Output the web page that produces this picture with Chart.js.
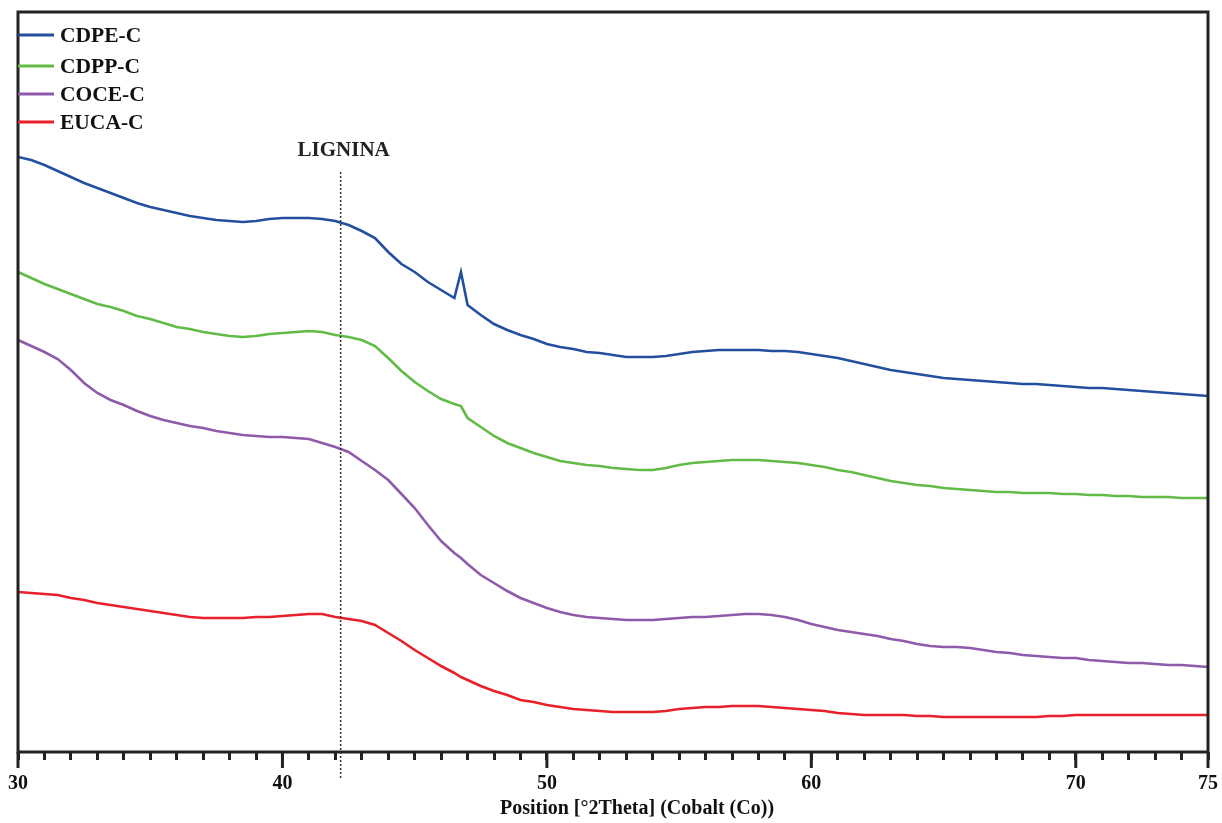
<!DOCTYPE html>
<html>
<head>
<meta charset="utf-8">
<script src="https://cdn.jsdelivr.net/npm/chart.js@4.4.0/dist/chart.umd.min.js"></script>
<style>
  body { margin: 0; background: #fff; }
  #wrap { width: 1222px; height: 823px; }
</style>
</head>
<body>
<div id="wrap"><canvas id="myChart"></canvas></div>
<script>
// Position [°2Theta], shared by the four patterns
var positions = [30, 30.5, 31, 31.5, 32, 32.5, 33, 33.5, 34, 34.5, 35, 35.5, 36, 36.5, 37, 37.5, 38, 38.5, 39, 39.5,
  40, 40.5, 41, 41.5, 42, 42.5, 43, 43.5, 44, 44.5, 45, 45.5, 46, 46.5, 46.75, 47, 47.5, 48, 48.5, 49, 49.5,
  50, 50.5, 51, 51.5, 52, 52.5, 53, 53.5, 54, 54.5, 55, 55.5, 56, 56.5, 57, 57.5, 58, 58.5, 59, 59.5,
  60, 60.5, 61, 61.5, 62, 62.5, 63, 63.5, 64, 64.5, 65, 65.5, 66, 66.5, 67, 67.5, 68, 68.5, 69, 69.5,
  70, 70.5, 71, 71.5, 72, 72.5, 73, 73.5, 74, 74.5, 75];

// intensities (arbitrary units, stacked patterns)
var cdpe = [593, 590, 585, 579, 573, 567, 562, 557, 552, 547, 543, 540, 537, 534, 532, 530, 529, 528, 529, 531,
  532, 532, 532, 531, 529, 525, 519, 512, 498, 486, 478, 468, 460, 452, 478, 445, 435, 426, 420, 415, 411,
  406, 403, 401, 398, 397, 395, 393, 393, 393, 394, 396, 398, 399, 400, 400, 400, 400, 399, 399, 398,
  396, 394, 392, 389, 386, 383, 380, 378, 376, 374, 372, 371, 370, 369, 368, 367, 366, 366, 365, 364,
  363, 362, 362, 361, 360, 359, 358, 357, 356, 355, 354];
var cdpp = [478, 472, 466, 461, 456, 451, 446, 443, 439, 434, 431, 427, 423, 421, 418, 416, 414, 413, 414, 416,
  417, 418, 419, 418, 415, 413, 410, 404, 392, 379, 368, 359, 351, 346, 344, 332, 323, 314, 307, 302, 297,
  293, 289, 287, 285, 284, 282, 281, 280, 280, 282, 285, 287, 288, 289, 290, 290, 290, 289, 288, 287,
  285, 283, 280, 278, 275, 272, 269, 267, 265, 264, 262, 261, 260, 259, 258, 258, 257, 257, 257, 256,
  256, 255, 255, 254, 254, 253, 253, 253, 252, 252, 252];
var coce = [410, 404, 398, 391, 380, 367, 357, 350, 345, 339, 334, 330, 327, 324, 322, 319, 317, 315, 314, 313,
  313, 312, 311, 307, 303, 298, 289, 280, 270, 256, 242, 225, 209, 197, 192, 186, 175, 167, 159, 152, 147,
  142, 138, 135, 133, 132, 131, 130, 130, 130, 131, 132, 133, 133, 134, 135, 136, 136, 135, 133, 130,
  126, 123, 120, 118, 116, 114, 111, 109, 106, 104, 103, 103, 102, 100, 98, 97, 95, 94, 93, 92,
  92, 90, 89, 88, 87, 87, 86, 85, 85, 84, 83];
var euca = [158, 157, 156, 155, 152, 150, 147, 145, 143, 141, 139, 137, 135, 133, 132, 132, 132, 132, 133, 133,
  134, 135, 136, 136, 133, 131, 129, 125, 117, 109, 100, 92, 84, 77, 73, 70, 64, 59, 55, 50, 48,
  45, 43, 41, 40, 39, 38, 38, 38, 38, 39, 41, 42, 43, 43, 44, 44, 44, 43, 42, 41,
  40, 39, 37, 36, 35, 35, 35, 35, 34, 34, 33, 33, 33, 33, 33, 33, 33, 33, 34, 34,
  35, 35, 35, 35, 35, 35, 35, 35, 35, 35, 35];

var seriesNames = ['CDPE-C', 'CDPP-C', 'COCE-C', 'EUCA-C'];
var seriesColors = ['#234f9e', '#62bb47', '#8e5aa9', '#e8202a'];
var tickLabels = [30, 40, 50, 60, 70, 75];
var ligninaPos = 42.2;
var xTitle = 'Position [°2Theta] (Cobalt (Co))';

var serif = "'Liberation Serif', 'Times New Roman', serif";

function toPoints(vals) {
  var pts = [];
  for (var i = 0; i < positions.length; i++) pts.push({ x: positions[i], y: vals[i] });
  return pts;
}

var allSeries = [cdpe, cdpp, coce, euca];
var datasets = [];
for (var s = 0; s < allSeries.length; s++) {
  datasets.push({
    label: seriesNames[s],
    data: toPoints(allSeries[s]),
    borderColor: seriesColors[s],
    borderWidth: 2.6,
    pointRadius: 0,
    tension: 0
  });
}

// frame, long ticks, LIGNINA marker, legend and axis title
var decorations = {
  id: 'decorations',
  afterDraw: function (chart) {
    var ctx = chart.ctx;
    var a = chart.chartArea;
    var xs = chart.scales.x;
    ctx.save();
    ctx.strokeStyle = '#222';
    ctx.lineWidth = 3;
    ctx.strokeRect(a.left, a.top, a.right - a.left, a.bottom - a.top);

    tickLabels.forEach(function (v) {
      var px = xs.getPixelForValue(v);
      ctx.beginPath();
      ctx.moveTo(px, a.bottom);
      ctx.lineTo(px, a.bottom + 16);
      ctx.stroke();
    });

    var lx = xs.getPixelForValue(ligninaPos);
    ctx.strokeStyle = '#333';
    ctx.lineWidth = 1.5;
    ctx.setLineDash([2, 2]);
    ctx.beginPath();
    ctx.moveTo(lx, a.top + 160);
    ctx.lineTo(lx, a.bottom + 28);
    ctx.stroke();
    ctx.setLineDash([]);

    ctx.fillStyle = '#222';
    ctx.font = 'bold 21px ' + serif;
    ctx.textAlign = 'center';
    ctx.textBaseline = 'middle';
    ctx.fillText('LIGNINA', lx + 3, a.top + 139);

    ctx.font = 'bold 20px ' + serif;
    ctx.fillStyle = '#111';
    ctx.fillText(xTitle, 637, a.bottom + 57);

    ctx.textAlign = 'left';
    ctx.font = 'bold 21.5px ' + serif;
    var rows = [23, 54, 82, 110];
    for (var i = 0; i < seriesNames.length; i++) {
      var y = a.top + rows[i];
      ctx.strokeStyle = seriesColors[i];
      ctx.lineWidth = 3;
      ctx.beginPath();
      ctx.moveTo(a.left, y);
      ctx.lineTo(a.left + 36, y);
      ctx.stroke();
      ctx.fillStyle = '#111';
      ctx.fillText(seriesNames[i], a.left + 42, y + 1);
    }
    ctx.restore();
  }
};

var ctx = document.getElementById('myChart').getContext('2d');
var chart = new Chart(ctx, {
  type: 'line',
  data: { datasets: datasets },
  options: {
    responsive: true,
    maintainAspectRatio: false,
    animation: false,
    layout: { padding: { left: 18, right: 14, top: 12, bottom: 0 } },
    plugins: { legend: { display: false }, tooltip: { enabled: false } },
    scales: {
      x: {
        type: 'linear',
        min: 30,
        max: 75,
        border: { display: false },
        grid: { drawOnChartArea: false, drawTicks: true, tickLength: 8, color: '#222', lineWidth: 3 },
        ticks: {
          stepSize: 1,
          autoSkip: false,
          maxRotation: 0,
          padding: 12,
          color: '#111',
          font: { family: serif, size: 20, weight: 'bold' },
          callback: function (v) { return tickLabels.indexOf(v) >= 0 ? v : ''; }
        },
        afterFit: function (scale) {
          scale.height = 71;
          scale.paddingLeft = 0;
          scale.paddingRight = 0;
        }
      },
      y: { display: false, min: -2, max: 738 }
    }
  },
  plugins: [decorations]
});
</script>
</body>
</html>
